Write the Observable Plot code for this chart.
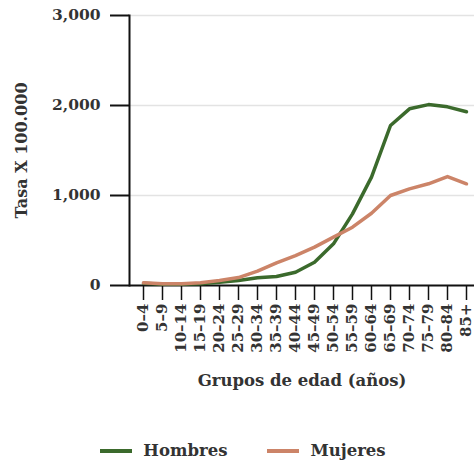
<!DOCTYPE html>
<html>
<head>
<meta charset="utf-8">
<script src="https://cdn.jsdelivr.net/npm/d3@7"></script>
<script src="https://cdn.jsdelivr.net/npm/@observablehq/plot@0.6"></script>
<style>
  html, body { margin: 0; padding: 0; background: #fff; overflow: hidden; }
  body { width: 474px; height: 464px; font-family: "DejaVu Serif", serif; }
  #legend { display: flex; justify-content: center; align-items: center; gap: 40px; padding-top: 41px; padding-left: 12px; font-weight: bold; font-size: 16.5px; color: #333; }
  .item { display: flex; align-items: center; gap: 11px; }
  .sw { width: 32px; height: 4px; }
</style>
</head>
<body>
<div id="chart"></div>
<div id="legend"></div>
<script>
const groups = ["0–4","5–9","10–14","15–19","20–24","25–29","30–34","35–39","40–44","45–49","50–54","55–59","60–64","65–69","70–74","75–79","80–84","85+"];
const hombres = [25, 15, 15, 20, 35, 55, 85, 100, 148, 259, 463, 796, 1204, 1778, 1963, 2010, 1985, 1930];
const mujeres = [30, 20, 20, 30, 55, 88, 159, 252, 333, 426, 537, 648, 803, 1000, 1074, 1130, 1211, 1130];
const seriesNames = ["Hombres", "Mujeres"];
const seriesColors = ["#3b6a2c", "#cc8468"];
const yTicks = [0, 1000, 2000, 3000];

const data = [];
groups.forEach((g, i) => {
  data.push({group: g, serie: seriesNames[0], value: hombres[i]});
  data.push({group: g, serie: seriesNames[1], value: mujeres[i]});
});

const plot = Plot.plot({
  width: 474,
  height: 400,
  marginTop: 15,
  marginBottom: 115,
  marginLeft: 129,
  marginRight: 0,
  insetLeft: 9,
  insetRight: 3,
  style: {fontFamily: "DejaVu Serif, serif", fontWeight: "bold", fontSize: "15px", color: "#333", background: "#fff"},
  x: {type: "point", domain: groups, padding: 0},
  y: {domain: [0, 3000]},
  color: {domain: seriesNames, range: seriesColors},
  marks: [
    Plot.gridY(yTicks.slice(1), {stroke: "#e3e3e3", strokeOpacity: 1, strokeWidth: 1.5}),
    Plot.axisY({ticks: yTicks, tickFormat: d3.format(","), tickSize: 19, tickPadding: 10, strokeWidth: 2, stroke: "#111", fontSize: 15.5, fill: "#333", label: null}),
    Plot.axisY({ticks: [], label: "Tasa X 100.000", labelArrow: "none", labelAnchor: "center", labelOffset: 114, fontSize: 16, fill: "#333"}),
    Plot.axisX({tickSize: 15, tickPadding: 3, tickRotate: -90, strokeWidth: 1.5, stroke: "#111", fontSize: 15, fill: "#333", label: null}),
    Plot.axisX({ticks: [], label: "Grupos de edad (años)", labelAnchor: "center", labelOffset: 100, fontSize: 16.5, fill: "#333"}),
    Plot.frame({anchor: "left", stroke: "#111", strokeWidth: 2}),
    Plot.ruleY([0], {stroke: "#111", strokeWidth: 2}),
    Plot.line(data, {x: "group", y: "value", z: "serie", stroke: "serie", strokeWidth: 3.5})
  ]
});
document.getElementById("chart").appendChild(plot);

const legend = document.getElementById("legend");
seriesNames.forEach((n, i) => {
  const it = document.createElement("div");
  it.className = "item";
  it.innerHTML = `<span class="sw" style="background:${seriesColors[i]}"></span><span>${n}</span>`;
  legend.appendChild(it);
});
</script>
</body>
</html>
